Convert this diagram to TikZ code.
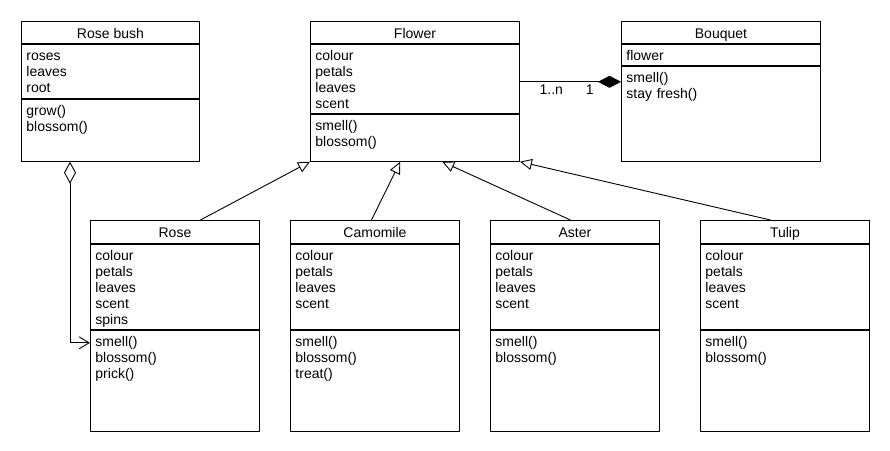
\documentclass[tikz,border=0pt]{standalone}
\usepackage{fontspec}
\setmainfont{Liberation Sans}
\usetikzlibrary{positioning,arrows.meta,calc}

\begin{document}
\begin{tikzpicture}[x=1pt,y=-1pt,line width=0.9pt,
  font=\fontsize{14}{16}\selectfont,
  head/.style 2 args={draw,inner sep=0pt,anchor=north west,minimum width=#1,minimum height=#2,text height=11.5pt,text depth=0pt},
  part/.style 2 args={draw,inner xsep=5pt,inner ysep=0pt,align=left,text width=#1,text height=16pt,text depth=#2},
  inherit/.style={-{Triangle[open,length=12pt,width=11pt]}},
  comp/.style={-{Diamond[length=23pt,width=12pt]}},
  agg/.style={{Diamond[open,length=22pt,width=12pt]}-{Straight Barb[length=10pt,width=12pt]}},
  mult/.style={below=2pt,inner sep=1pt}]
\useasboundingbox (0,0) rectangle (890,450);
%\draw[help lines] (0,0) grid[step=50] (890,450);

% top row
\node[head={178pt}{22pt}] (bush-t) at (21,21) {Rose bush};
\node[part={168pt}{38pt},below=0pt of bush-t] (bush-a) {roses\\leaves\\root};
\node[part={168pt}{46pt},below=0pt of bush-a] (bush-m) {grow()\\blossom()};

\node[head={209pt}{22pt}] (flower-t) at (310,21) {Flower};
\node[part={199pt}{53pt},below=0pt of flower-t] (flower-a) {colour\\petals\\leaves\\scent};
\node[part={199pt}{31pt},below=0pt of flower-a] (flower-m) {smell()\\blossom()};

\node[head={199pt}{22pt}] (bouquet-t) at (621,21) {Bouquet};
\node[part={189pt}{5pt},below=0pt of bouquet-t] (bouquet-a) {flower};
\node[part={189pt}{79pt},below=0pt of bouquet-a] (bouquet-m) {smell()\\stay fresh()};

% bottom row
\node[head={169pt}{23pt}] (rose-t) at (90,220) {Rose};
\node[part={159pt}{69pt},below=0pt of rose-t] (rose-a) {colour\\petals\\leaves\\scent\\spins};
\node[part={159pt}{85pt},below=0pt of rose-a] (rose-m) {smell()\\blossom()\\prick()};

\node[head={169pt}{23pt}] (camo-t) at (290,220) {Camomile};
\node[part={159pt}{69pt},below=0pt of camo-t] (camo-a) {colour\\petals\\leaves\\scent};
\node[part={159pt}{85pt},below=0pt of camo-a] (camo-m) {smell()\\blossom()\\treat()};

\node[head={169pt}{23pt}] (aster-t) at (490,220) {Aster};
\node[part={159pt}{69pt},below=0pt of aster-t] (aster-a) {colour\\petals\\leaves\\scent};
\node[part={159pt}{85pt},below=0pt of aster-a] (aster-m) {smell()\\blossom()};

\node[head={169pt}{23pt}] (tulip-t) at (700,220) {Tulip};
\node[part={159pt}{69pt},below=0pt of tulip-t] (tulip-a) {colour\\petals\\leaves\\scent};
\node[part={159pt}{85pt},below=0pt of tulip-a] (tulip-m) {smell()\\blossom()};

% generalisation
\draw[inherit] ([xshift=25.5pt]rose-t.north) -- (flower-m.south west);
\draw[inherit] ([xshift=-3.5pt]camo-t.north) -- ($(flower-m.south west)!0.43!(flower-m.south east)$);
\draw[inherit] ([xshift=-4.5pt]aster-t.north) -- ($(flower-m.south west)!0.63!(flower-m.south east)$);
\draw[inherit] ([xshift=-14.5pt]tulip-t.north) -- (flower-m.south east);

% composition and aggregation
\coordinate (cb) at ([yshift=-16pt]bouquet-m.north west);
\draw[comp] (flower-a.east |- cb) -- node[mult,pos=0.31] (mult-n) {1..n} node[mult,pos=0.69] (mult-1) {1} (cb);
\draw[agg] ([xshift=49pt]bush-m.south west) |- ([yshift=-13pt]rose-m.north west);
\end{tikzpicture}
\end{document}
